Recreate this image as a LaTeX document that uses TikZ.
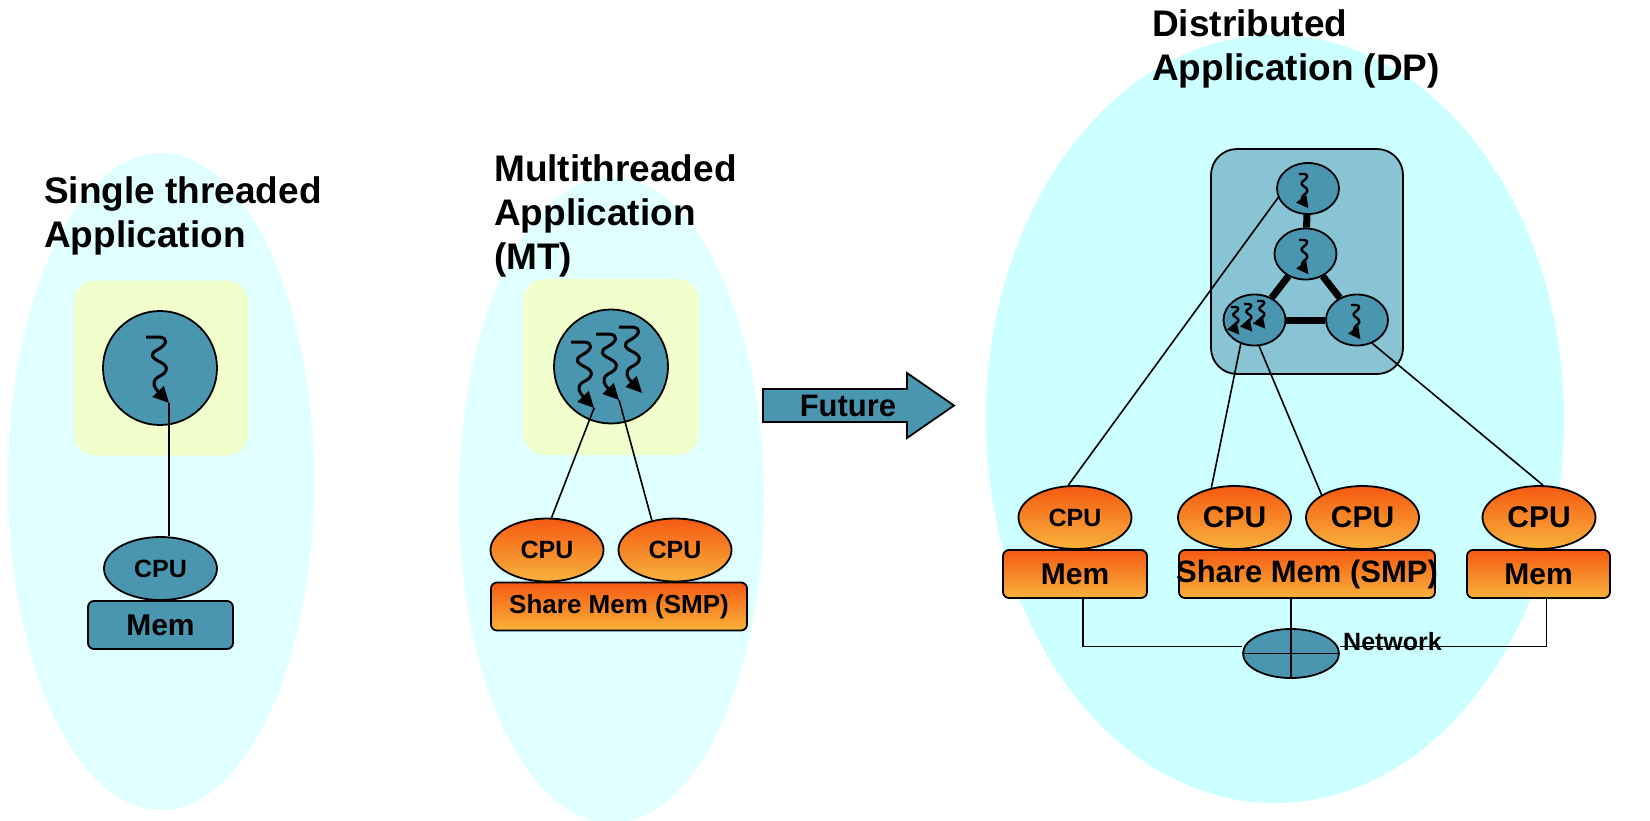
\documentclass[tikz,border=0pt]{standalone}
\usepackage{fontspec}
\setmainfont{Liberation Sans}
\usetikzlibrary{shapes.geometric,arrows.meta}
\definecolor{bgpale}{HTML}{E0FFFF}
\definecolor{bgcyan}{HTML}{CCFFFF}
\definecolor{ylw}{HTML}{F0FFCC}
\definecolor{tealc}{HTML}{4A96B0}
\definecolor{panelc}{HTML}{88C4D4}
\definecolor{ortop}{HTML}{F55A12}
\definecolor{orbot}{HTML}{F9B23C}
\newcommand{\fntS}{\bfseries\fontsize{25}{30}\selectfont}
\newcommand{\fntM}{\bfseries\fontsize{30}{36}\selectfont}
\newcommand{\fntT}{\bfseries\fontsize{37}{44}\selectfont}
\newcommand{\mysquig}[6]{%
  \begin{scope}[shift={(#2,#3)},xscale=#4,yscale=#5]
  \draw[#6] (0,0) -- (12,0) .. controls (21,1) and (19,8) .. (10,13)
    .. controls (3,17) and (5,21) .. (13,25)
    .. controls (22,30) and (19,36) .. (11,40)
    .. controls (4,45) and (8,51) .. (21,66) coordinate (#1);
  \end{scope}}
\tikzset{
  ttl/.style={font=\fntT, inner sep=0pt, anchor=base west},
  bgell/.style={ellipse, inner sep=0pt},
  ybox/.style={rectangle, rounded corners=22pt, fill=ylw, inner sep=0pt},
  tealnode/.style={draw=black, line width=1.8pt, fill=tealc, inner sep=0pt},
  cpuT/.style={tealnode, ellipse, minimum width=113pt, minimum height=63pt, font=\fntS},
  cpuO/.style={ellipse, draw=black, line width=1.8pt, top color=ortop, bottom color=orbot, inner sep=0pt, minimum width=113pt, minimum height=63pt},
  memT/.style={tealnode, rectangle, rounded corners=6pt, minimum height=48pt, font=\fntM},
  memO/.style={rectangle, rounded corners=6pt, draw=black, line width=1.8pt, top color=ortop, bottom color=orbot, inner sep=0pt, minimum height=48pt},
  squigbig/.style={line width=3pt, -{Triangle[length=16pt,width=15pt]}},
  squigsmall/.style={line width=2.4pt, -{Triangle[length=12pt,width=12pt]}},
  wire/.style={line width=1.6pt},
  fatwire/.style={line width=7pt},
  smallnode/.style={tealnode, ellipse, minimum width=62pt, minimum height=51pt}
}
\begin{document}
\begin{tikzpicture}[x=1pt,y=-1pt]
\useasboundingbox[fill=white] (0,0) rectangle (1650,820);

% ---------- left: single threaded ----------
\node[bgell, fill=bgpale, minimum width=306pt, minimum height=657pt] (bgL) at (161,481.5) {};
\node[ttl] (tLa) at (44,203) {Single threaded};
\node[ttl] (tLb) at (44,247) {Application};
\node[ybox, minimum width=175pt, minimum height=175pt] (yL) at (161,368) {};
\node[tealnode, circle, minimum size=114pt] (cL) at (160,368) {};
\mysquig{tL}{146}{337}{1.1}{1}{squigbig}
\node[cpuT] (cpuL) at (160.5,568.5) {CPU};
\node[memT, minimum width=145pt] (memL) at (160.5,625) {Mem};
\draw[wire] (tL) -- (tL |- cpuL.north);

% ---------- middle: multithreaded ----------
\node[bgell, fill=bgpale, minimum width=305pt, minimum height=646pt] (bgM) at (611.5,500) {};
\node[ttl] (tMa) at (494,181) {Multithreaded};
\node[ttl] (tMb) at (494,225) {Application};
\node[ttl] (tMc) at (494,269) {(MT)};
\node[ybox, minimum width=176pt, minimum height=176pt] (yM) at (611,367) {};
\node[tealnode, circle, minimum size=114pt] (cM) at (611,366.5) {};
\mysquig{tM1}{571}{342}{1.1}{1}{squigbig}
\mysquig{tM2}{596}{334}{1.1}{1}{squigbig}
\mysquig{tM3}{619}{327}{1.1}{1}{squigbig}
\node[cpuO, font=\fntS] (cpuM1) at (547,550) {CPU};
\node[cpuO, font=\fntS] (cpuM2) at (675,550) {CPU};
\node[memO, minimum width=256pt, font=\bfseries\fontsize{26}{31}\selectfont] (smpM) at (619,606.5) {Share Mem (SMP)};
\draw[wire] (tM1) -- (cpuM1.82);
\draw[wire] (tM2) -- (cpuM2.128);

% ---------- future arrow ----------
\draw[line width=1.8pt, fill=tealc] (763,389) -- (907,389) -- (907,373) -- (954,405.5)
  -- (907,438) -- (907,422) -- (763,422) -- cycle;
\node[font=\bfseries\fontsize{31}{37}\selectfont, inner sep=0pt] (fut) at (848,406) {Future};

% ---------- right: distributed ----------
\node[bgell, fill=bgcyan, minimum width=578pt, minimum height=768pt] (bgR) at (1275,419) {};
\node[ttl] (tRa) at (1152,36) {Distributed};
\node[ttl] (tRb) at (1152,80) {Application (DP)};
\node[rectangle, rounded corners=26pt, draw=black, line width=1.8pt, fill=panelc,
      minimum width=192pt, minimum height=225pt] (panel) at (1307,261.5) {};
\node[smallnode] (n1) at (1308,188.5) {};
\node[smallnode] (n2) at (1305.5,254) {};
\node[smallnode] (n3) at (1254.5,320) {};
\node[smallnode] (n4) at (1357,320) {};
\draw[fatwire] (n1) -- (n2);
\draw[fatwire] (n2) -- (n3);
\draw[fatwire] (n2) -- (n4);
\draw[fatwire] (n3) -- (n4);
\mysquig{s1}{1299}{174}{0.45}{0.52}{squigsmall}
\mysquig{s2}{1299}{240}{0.45}{0.52}{squigsmall}
\mysquig{s4}{1351}{305}{0.45}{0.52}{squigsmall}
\mysquig{s3a}{1231}{307}{0.4}{0.42}{squigsmall}
\mysquig{s3b}{1244}{304}{0.4}{0.42}{squigsmall}
\mysquig{s3c}{1257}{301}{0.4}{0.42}{squigsmall}

\node[cpuO, font=\fntS] (cpuA) at (1075,517.5) {CPU};
\node[cpuO, font=\fntM] (cpuB) at (1234.5,517.5) {CPU};
\node[cpuO, font=\fntM] (cpuC) at (1362.5,517.5) {CPU};
\node[cpuO, font=\fntM] (cpuD) at (1539,517.5) {CPU};
\node[memO, minimum width=144pt, font=\fntM] (memA) at (1075,574) {Mem};
\node[memO, minimum width=256pt] (smpR) at (1307,574) {};
\node[font=\bfseries\fontsize{31}{37}\selectfont, inner sep=0pt] (smpRt) at (smpR) {Share Mem (SMP)};
\node[memO, minimum width=143pt, font=\fntM] (memD) at (1538.5,574) {Mem};

\draw[wire] (n1.197) -- (cpuA.102);
\draw[wire] (n3.240) -- (cpuB.128);
\draw[wire] (n3.280) -- (cpuC.151);
\draw[wire] (n4.303) -- (cpuD.83);

\node[tealnode, ellipse, minimum width=96pt, minimum height=49pt] (net) at (1291,653.5) {};
\draw[wire] (net.west) -- (net.east);
\draw[wire] (net.south) -- (net.south |- smpR.south);
\draw[wire] ([xshift=8pt]memA.south) |- ([yshift=7pt]net.west);
\draw[wire] ([yshift=7pt]net.east) -| ([xshift=8pt]memD.south);
\node[font=\bfseries\fontsize{25}{30}\selectfont, inner sep=0pt, anchor=base west] (netl) at (1343,650) {Network};
\end{tikzpicture}
\end{document}
